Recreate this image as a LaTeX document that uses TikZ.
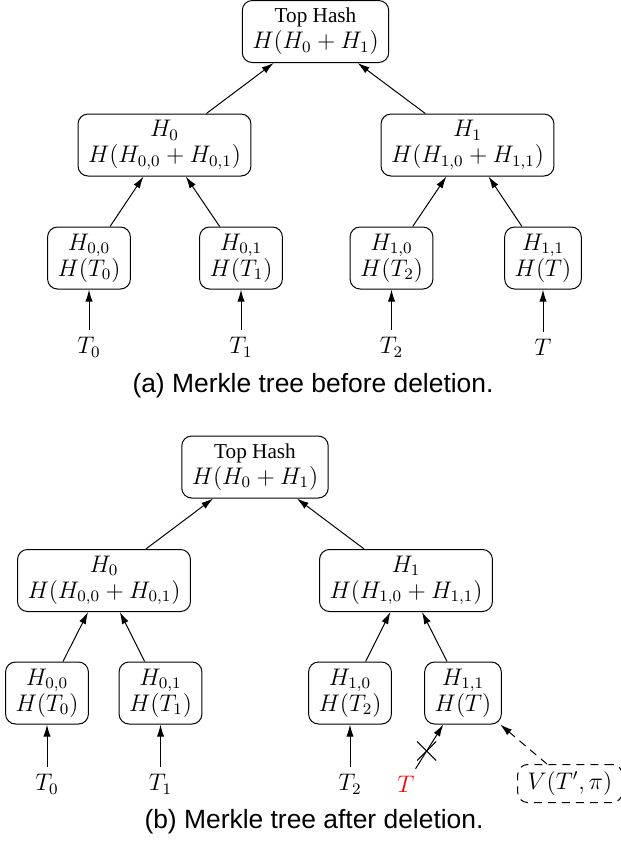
\documentclass[tikz,border=0pt]{standalone}
\usepackage[no-math]{fontspec}
\setmainfont{Liberation Serif}
\newfontfamily\capfont{Liberation Sans}
\usetikzlibrary{arrows.meta,shapes.misc}
\newcommand{\tophash}{{\fontsize{10.6}{13}\selectfont Top Hash}}
\begin{document}
\begin{tikzpicture}[x=0.5pt,y=-0.5pt,
  hbox/.style={draw, rounded corners=5pt, align=center, font=\fontsize{12}{13}\selectfont, minimum height=31pt, inner xsep=5pt, inner ysep=3pt, line width=0.5pt},
  vbox/.style={hbox, minimum height=19pt, dash pattern=on 4pt off 3pt},
  lbl/.style={font=\fontsize{12}{14}\selectfont, inner sep=3.33pt},
  arr/.style={-{Latex[length=6pt,width=3.6pt]}, line width=0.5pt},
  captext/.style={font=\capfont\fontsize{13.2}{15}\selectfont, anchor=base}]
\useasboundingbox (0,0) rectangle (621,848);
% ---------- (a) ----------
\node[hbox] (atop) at (315.5,31.5) {\tophash\\$H(H_0+H_1)$};
\node[hbox] (ah0) at (164.5,145) {$H_0$\\$H(H_{0,0}+H_{0,1})$};
\node[hbox] (ah1) at (467.5,145) {$H_1$\\$H(H_{1,0}+H_{1,1})$};
\node[hbox] (ah00) at (89,258) {$H_{0,0}$\\$H(T_0)$};
\node[hbox] (ah01) at (241,258) {$H_{0,1}$\\$H(T_1)$};
\node[hbox] (ah10) at (391.5,258) {$H_{1,0}$\\$H(T_2)$};
\node[hbox] (ah11) at (543,258) {$H_{1,1}$\\$H(T)$};
\node[lbl] (at0) at (89,347) {$T_0$};
\node[lbl] (at1) at (241,347) {$T_1$};
\node[lbl] (at2) at (391.5,347) {$T_2$};
\node[lbl] (at3) at (543,347) {$T$};
\draw[arr] (ah0) -- (atop);
\draw[arr] (ah1) -- (atop);
\draw[arr] (ah00) -- (ah0);
\draw[arr] (ah01) -- (ah0);
\draw[arr] (ah10) -- (ah1);
\draw[arr] (ah11) -- (ah1);
\draw[arr] (at0) -- (ah00);
\draw[arr] (at1) -- (ah01);
\draw[arr] (at2) -- (ah10);
\draw[arr] (at3) -- (ah11);
\node[captext] (capa) at (313,392) {(a) Merkle tree before deletion.};
% ---------- (b) ----------
\node[hbox] (btop) at (255,467) {\tophash\\$H(H_0+H_1)$};
\node[hbox] (bh0) at (104,580.5) {$H_0$\\$H(H_{0,0}+H_{0,1})$};
\node[hbox] (bh1) at (406,580.5) {$H_1$\\$H(H_{1,0}+H_{1,1})$};
\node[hbox] (bh00) at (47,693) {$H_{0,0}$\\$H(T_0)$};
\node[hbox] (bh01) at (160.5,693) {$H_{0,1}$\\$H(T_1)$};
\node[hbox] (bh10) at (350,693) {$H_{1,0}$\\$H(T_2)$};
\node[hbox] (bh11) at (463,693) {$H_{1,1}$\\$H(T)$};
\node[lbl] (bt0) at (47,784) {$T_0$};
\node[lbl] (bt1) at (160.5,784) {$T_1$};
\node[lbl] (bt2) at (350,784) {$T_2$};
\node[lbl, text=red] (bt3) at (406,784) {$T$};
\node[vbox] (bv) at (570,783.5) {$V(T',\pi)$};
\draw[arr] (bh0) -- (btop);
\draw[arr] (bh1) -- (btop);
\draw[arr] (bh00) -- (bh0);
\draw[arr] (bh01) -- (bh0);
\draw[arr] (bh10) -- (bh1);
\draw[arr] (bh11) -- (bh1);
\draw[arr] (bt0) -- (bh00);
\draw[arr] (bt1) -- (bh01);
\draw[arr] (bt2) -- (bh10);
\draw[arr] (bt3) -- node[pos=0.4, draw, cross out, minimum size=9pt, inner sep=0pt, line width=0.5pt] (xmark) {} (bh11);
\draw[arr, dash pattern=on 4pt off 3pt] (bv) -- (bh11);
\node[captext] (capb) at (314,828) {(b) Merkle tree after deletion.};
\end{tikzpicture}
\end{document}
